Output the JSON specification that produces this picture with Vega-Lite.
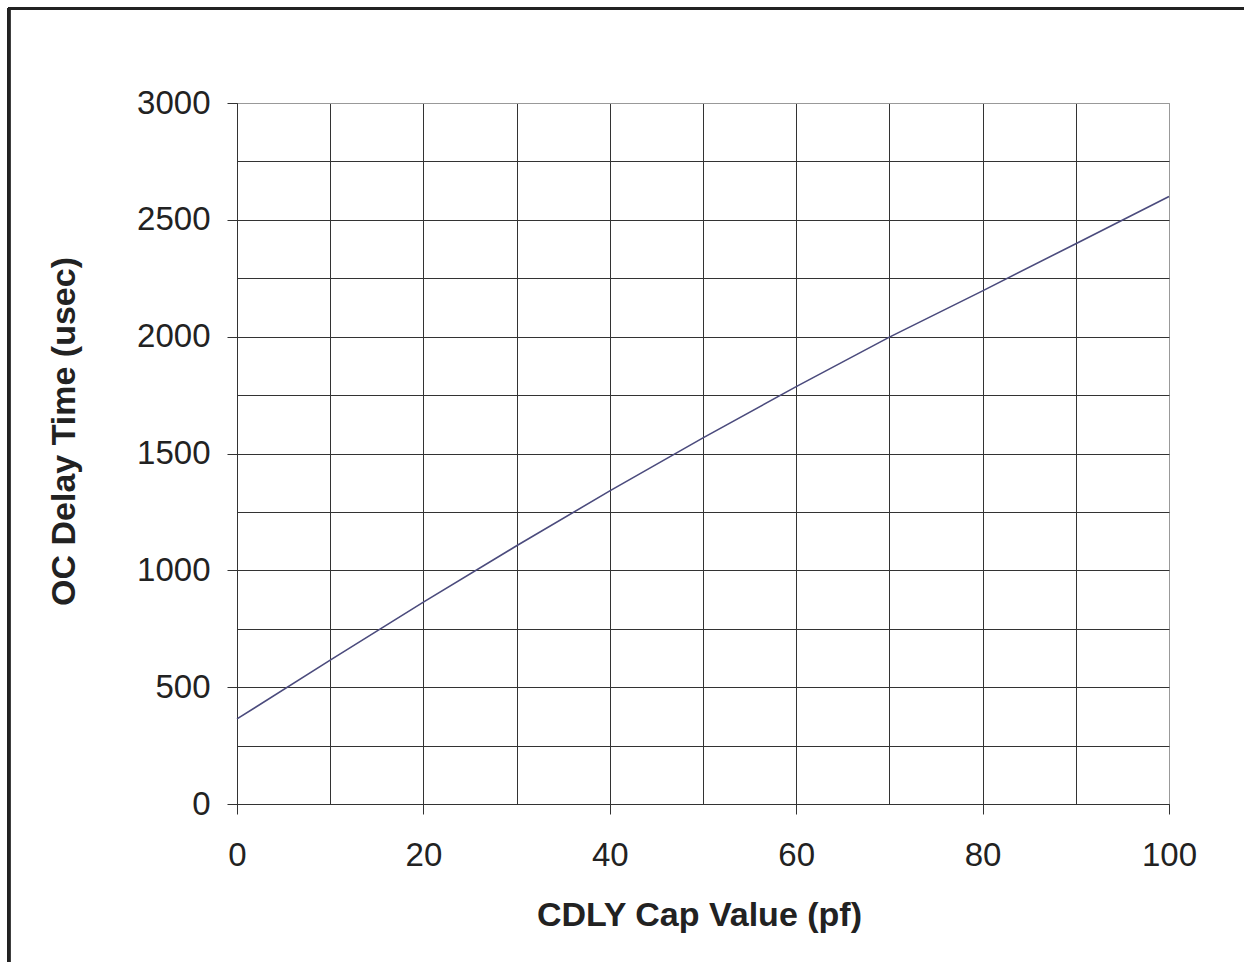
{
  "$schema": "https://vega.github.io/schema/vega-lite/v6.json",
  "autosize": "none",
  "width": 932,
  "height": 701,
  "padding": {"left": 237, "top": 103, "right": 75, "bottom": 158},
  "background": "white",
  "config": {
    "font": "Liberation Sans",
    "view": {"stroke": "#999999", "strokeWidth": 1}
  },
  "data": {
    "values": [
      {"cap": 0, "delay": 364},
      {"cap": 10, "delay": 616},
      {"cap": 20, "delay": 864},
      {"cap": 30, "delay": 1105},
      {"cap": 40, "delay": 1340},
      {"cap": 50, "delay": 1567},
      {"cap": 60, "delay": 1786},
      {"cap": 70, "delay": 1998},
      {"cap": 80, "delay": 2196},
      {"cap": 90, "delay": 2398},
      {"cap": 100, "delay": 2600}
    ]
  },
  "layer": [
    {
      "mark": {"type": "line", "color": "#4b4b7d", "strokeWidth": 1.6},
      "encoding": {
        "x": {
          "field": "cap",
          "type": "quantitative",
          "scale": {"domain": [0, 100], "nice": false, "zero": false},
          "axis": {
            "values": [0, 10, 20, 30, 40, 50, 60, 70, 80, 90, 100],
            "labelExpr": "datum.value % 20 == 0 ? datum.label : ''",
            "format": "d",
            "grid": true,
            "gridColor": {"condition": {"test": "datum.value == 100", "value": "#999999"}, "value": "#333333"},
            "gridWidth": 1,
            "gridOpacity": 1,
            "domainColor": "#333333",
            "domainWidth": 1,
            "tickColor": "#333333",
            "tickSize": 10,
            "tickWidth": 1,
            "tickOpacity": {"condition": {"test": "datum.value % 20 == 0", "value": 1}, "value": 0},
            "labelFont": "Liberation Sans",
            "labelFontSize": 33,
            "labelColor": "#222222",
            "labelPadding": 25,
            "labelFlush": false,
            "labelOverlap": false,
            "title": "CDLY Cap Value (pf)",
            "titleFont": "Liberation Sans",
            "titleFontSize": 34,
            "titleFontWeight": "bold",
            "titleColor": "#222222",
            "titleX": 462,
            "titleY": 121,
            "titleAlign": "center",
            "titleBaseline": "alphabetic"
          }
        },
        "y": {
          "field": "delay",
          "type": "quantitative",
          "scale": {"domain": [0, 3000], "nice": false, "zero": false},
          "axis": {
            "values": [0, 250, 500, 750, 1000, 1250, 1500, 1750, 2000, 2250, 2500, 2750, 3000],
            "labelExpr": "datum.value % 500 == 0 ? datum.label : ''",
            "format": "d",
            "grid": true,
            "gridColor": {"condition": {"test": "datum.value == 3000", "value": "#999999"}, "value": "#333333"},
            "gridWidth": 1,
            "gridOpacity": 1,
            "domainColor": "#333333",
            "domainWidth": 1,
            "tickColor": "#333333",
            "tickSize": 10,
            "tickWidth": 1,
            "tickOpacity": {"condition": {"test": "datum.value % 500 == 0", "value": 1}, "value": 0},
            "labelFont": "Liberation Sans",
            "labelFontSize": 33,
            "labelColor": "#222222",
            "labelPadding": 17,
            "labelFlush": false,
            "labelOverlap": false,
            "title": "OC Delay Time (usec)",
            "titleFont": "Liberation Sans",
            "titleFontSize": 34,
            "titleFontWeight": "bold",
            "titleColor": "#222222",
            "titleAngle": -90,
            "titleX": -173,
            "titleY": 328,
            "titleAlign": "center",
            "titleBaseline": "middle"
          }
        }
      }
    },
    {
      "mark": {"type": "rule", "color": "#222222", "strokeWidth": 3, "clip": false},
      "encoding": {
        "x": {"datum": -24.5, "type": "quantitative"},
        "y": {"datum": -1200, "type": "quantitative"},
        "y2": {"datum": 3404}
      }
    },
    {
      "mark": {"type": "rule", "color": "#222222", "strokeWidth": 3, "clip": false},
      "encoding": {
        "y": {"datum": 3404, "type": "quantitative"},
        "x": {"datum": -24.5, "type": "quantitative"},
        "x2": {"datum": 150}
      }
    }
  ]
}
